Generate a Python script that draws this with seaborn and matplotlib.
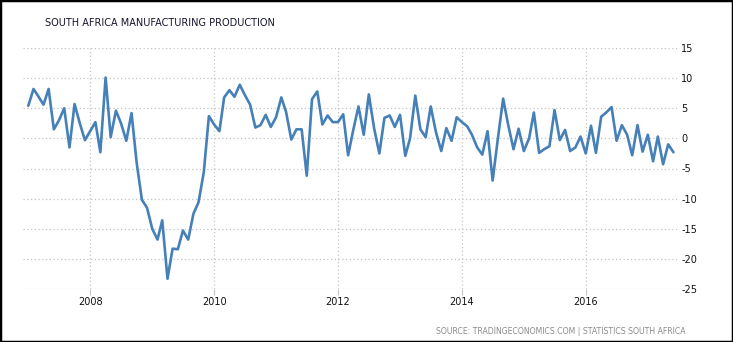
import numpy as np
import pandas as pd
import seaborn as sns
import matplotlib.pyplot as plt
import matplotlib.dates as mdates
from matplotlib.patches import Rectangle

# Monthly year-on-year change in manufacturing output (%), Jan 2007 - Jun 2017
start_month = "2007-01-01"
production_yoy = [
    5.4, 8.2, 7.0, 5.6, 8.2, 1.5, 3.0, 5.0, -1.5, 5.7, 2.5, -0.3,      # 2007
    1.2, 2.7, -2.3, 10.1, 0.2, 4.6, 2.5, -0.4, 4.2, -4.0, -10.2, -11.5,  # 2008
    -15.0, -16.8, -13.6, -23.3, -18.3, -18.4, -15.3, -16.8, -12.5, -10.6, -5.6, 3.7,  # 2009
    2.3, 1.2, 6.8, 8.0, 6.9, 8.9, 7.2, 5.6, 1.8, 2.2, 3.9, 1.9,       # 2010
    3.5, 6.8, 4.4, -0.2, 1.5, 1.5, -6.2, 6.5, 7.8, 2.3, 3.8, 2.7,     # 2011
    2.7, 4.0, -2.8, 1.5, 5.3, 0.6, 7.3, 1.7, -2.5, 3.4, 3.8, 1.9,     # 2012
    3.9, -2.9, 0.0, 7.1, 1.5, 0.2, 5.3, 1.0, -2.1, 1.7, -0.4, 3.5,    # 2013
    2.7, 2.0, 0.6, -1.5, -2.7, 1.2, -7.0, 0.0, 6.6, 2.2, -1.8, 1.6,   # 2014
    -2.1, 0.0, 4.3, -2.4, -1.8, -1.3, 4.7, -0.3, 1.4, -2.1, -1.5, 0.3,  # 2015
    -2.5, 2.1, -2.4, 3.6, 4.3, 5.2, -0.4, 2.2, 0.6, -2.8, 2.2, -2.2,  # 2016
    0.6, -3.8, 0.3, -4.3, -1.0, -2.3,                                 # 2017
]
y_ticks = [-25, -20, -15, -10, -5, 0, 5, 10, 15]

title = "SOUTH AFRICA MANUFACTURING PRODUCTION"
source = "SOURCE: TRADINGECONOMICS.COM | STATISTICS SOUTH AFRICA"

months = pd.date_range(start_month, periods=len(production_yoy), freq="MS")
df = pd.DataFrame({"date": months, "value": production_yoy})

sns.set_theme(style="white")
plt.rcParams["font.family"] = ["DejaVu Sans"]

W, H = 733, 342
fig = plt.figure(figsize=(W / 100, H / 100), dpi=100)
fig.patch.set_facecolor("white")

left, right, top, bottom = 23, 677, 48, 289
ax = fig.add_axes([left / W, 1 - bottom / H, (right - left) / W, (bottom - top) / H])

sns.lineplot(data=df, x="date", y="value", ax=ax, color="#4580b8",
             linewidth=1.9, solid_joinstyle="round", solid_capstyle="round")

ax.set_xlim(pd.Timestamp("2006-12-01"), pd.Timestamp("2017-06-22"))
ax.set_ylim(-25, 15)
ax.set_yticks(y_ticks)
ax.set_yticklabels([str(t) for t in y_ticks])
ax.yaxis.tick_right()
ax.xaxis.set_major_locator(mdates.YearLocator(2))
ax.xaxis.set_major_formatter(mdates.DateFormatter("%Y"))
ax.set_xlabel("")
ax.set_ylabel("")

for s in ax.spines.values():
    s.set_visible(False)

ax.grid(True, which="major", linestyle=(0, (1, 2)), color="#c4c4c4", linewidth=0.9)
ax.tick_params(axis="x", length=4, width=0.8, color="#c4c4c4", pad=2,
               labelsize=7, labelcolor="#111111", bottom=True)
ax.tick_params(axis="y", length=0, pad=3, labelsize=7, labelcolor="#111111")
for lbl in ax.get_yticklabels():
    lbl.set_horizontalalignment("left")

fig.text(45 / W, 1 - 23 / H, title, fontsize=7, color="#15152a", va="center", ha="left")
fig.text(686 / W, 1 - 331 / H, source, fontsize=5.6, color="#8a8a8a", va="center", ha="right")

fig.patches.append(Rectangle((0, 0), 1, 1, transform=fig.transFigure, fill=False,
                             edgecolor="black", linewidth=2.5, zorder=10))

fig.savefig("out.png", dpi=100)
